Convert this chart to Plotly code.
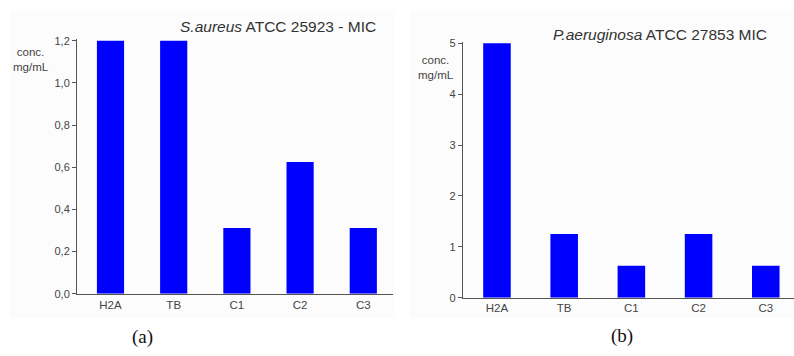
import plotly.graph_objects as go

W, H = 794, 356

categories = ["H2A", "TB", "C1", "C2", "C3"]
saureus_mic = [1.2, 1.2, 0.3125, 0.625, 0.3125]
paeruginosa_mic = [5, 1.25, 0.625, 1.25, 0.625]

left_tickvals = [0, 0.2, 0.4, 0.6, 0.8, 1.0, 1.2]
left_ticktext = ["0,0", "0,2", "0,4", "0,6", "0,8", "1,0", "1,2"]
right_tickvals = [0, 1, 2, 3, 4, 5]
right_ticktext = ["0", "1", "2", "3", "4", "5"]

title_a = "<i>S.aureus</i> ATCC 25923 - MIC"
title_b = "<i>P.aeruginosa</i> ATCC 27853 MIC"
ylab = "conc.<br>mg/mL"


def px(x):
    return x / W


def py(y):
    return (H - y) / H


AX = "#555555"
TXT = "#444444"
BLUE = "#0000ff"
xtickfont = dict(family="Liberation Sans Narrow, Arial", size=11.5, color=TXT)
ytickfont = dict(family="Liberation Sans, Arial", size=11, color=TXT)

fig = go.Figure()
fig.add_trace(go.Bar(x=categories, y=saureus_mic, marker=dict(color=BLUE, line=dict(width=0)),
                     width=0.43, xaxis="x", yaxis="y"))
fig.add_trace(go.Bar(x=categories, y=paeruginosa_mic, marker=dict(color=BLUE, line=dict(width=0)),
                     width=0.41, xaxis="x2", yaxis="y2"))

common_x = dict(showgrid=False, zeroline=False, showline=True, linecolor=AX, linewidth=1,
                ticks="", tickfont=xtickfont, type="category", fixedrange=True)
common_y = dict(showgrid=False, zeroline=False, showline=True, linecolor=AX, linewidth=1,
                ticks="outside", ticklen=4, tickcolor=AX, tickwidth=1, tickfont=ytickfont)

fig.update_layout(
    width=W, height=H, margin=dict(l=0, r=0, t=0, b=0),
    paper_bgcolor="white", plot_bgcolor="rgba(0,0,0,0)", showlegend=False,
    xaxis=dict(common_x, domain=[px(77), px(393)], range=[-0.53, 4.47], anchor="y"),
    yaxis=dict(common_y, domain=[py(298), py(34.8)], range=[0, 1.21],
               tickvals=left_tickvals, ticktext=left_ticktext, anchor="x"),
    xaxis2=dict(common_x, domain=[px(462.7), 1.0], range=[-0.51, 4.42], anchor="y2"),
    yaxis2=dict(common_y, domain=[py(302), py(37.9)], range=[0, 5.03],
                tickvals=right_tickvals, ticktext=right_ticktext, anchor="x2"),
    bargap=0.5,
)

# faint panel backgrounds
fig.add_shape(type="rect", xref="paper", yref="paper", x0=px(10), x1=px(395), y0=py(323), y1=py(6),
              fillcolor="#fcfcfc", line=dict(width=0), layer="below")
fig.add_shape(type="rect", xref="paper", yref="paper", x0=px(410), x1=1.0, y0=py(323), y1=py(6),
              fillcolor="#fcfcfc", line=dict(width=0), layer="below")

fig.add_annotation(text=title_a, xref="paper", yref="paper", x=px(378), y=py(22),
                   xanchor="right", yanchor="middle", showarrow=False,
                   font=dict(family="Liberation Sans, Arial", size=15.5, color="#333333"))
fig.add_annotation(text=title_b, xref="paper", yref="paper", x=px(769), y=py(30),
                   xanchor="right", yanchor="middle", showarrow=False,
                   font=dict(family="Liberation Sans, Arial", size=15.5, color="#333333"))

fig.add_annotation(text=ylab, xref="paper", yref="paper", x=px(31), y=py(56),
                   xanchor="center", yanchor="middle", showarrow=False,
                   font=dict(family="Liberation Sans, Arial", size=11.5, color=TXT))
fig.add_annotation(text=ylab, xref="paper", yref="paper", x=px(436), y=py(65),
                   xanchor="center", yanchor="middle", showarrow=False,
                   font=dict(family="Liberation Sans, Arial", size=11.5, color=TXT))

fig.add_annotation(text="(a)", xref="paper", yref="paper", x=px(142), y=py(343),
                   xanchor="center", yanchor="middle", showarrow=False,
                   font=dict(family="Liberation Serif, Times New Roman", size=19, color="#111111"))
fig.add_annotation(text="(b)", xref="paper", yref="paper", x=px(622), y=py(342),
                   xanchor="center", yanchor="middle", showarrow=False,
                   font=dict(family="Liberation Serif, Times New Roman", size=19, color="#111111"))

fig.write_html("out.html")
